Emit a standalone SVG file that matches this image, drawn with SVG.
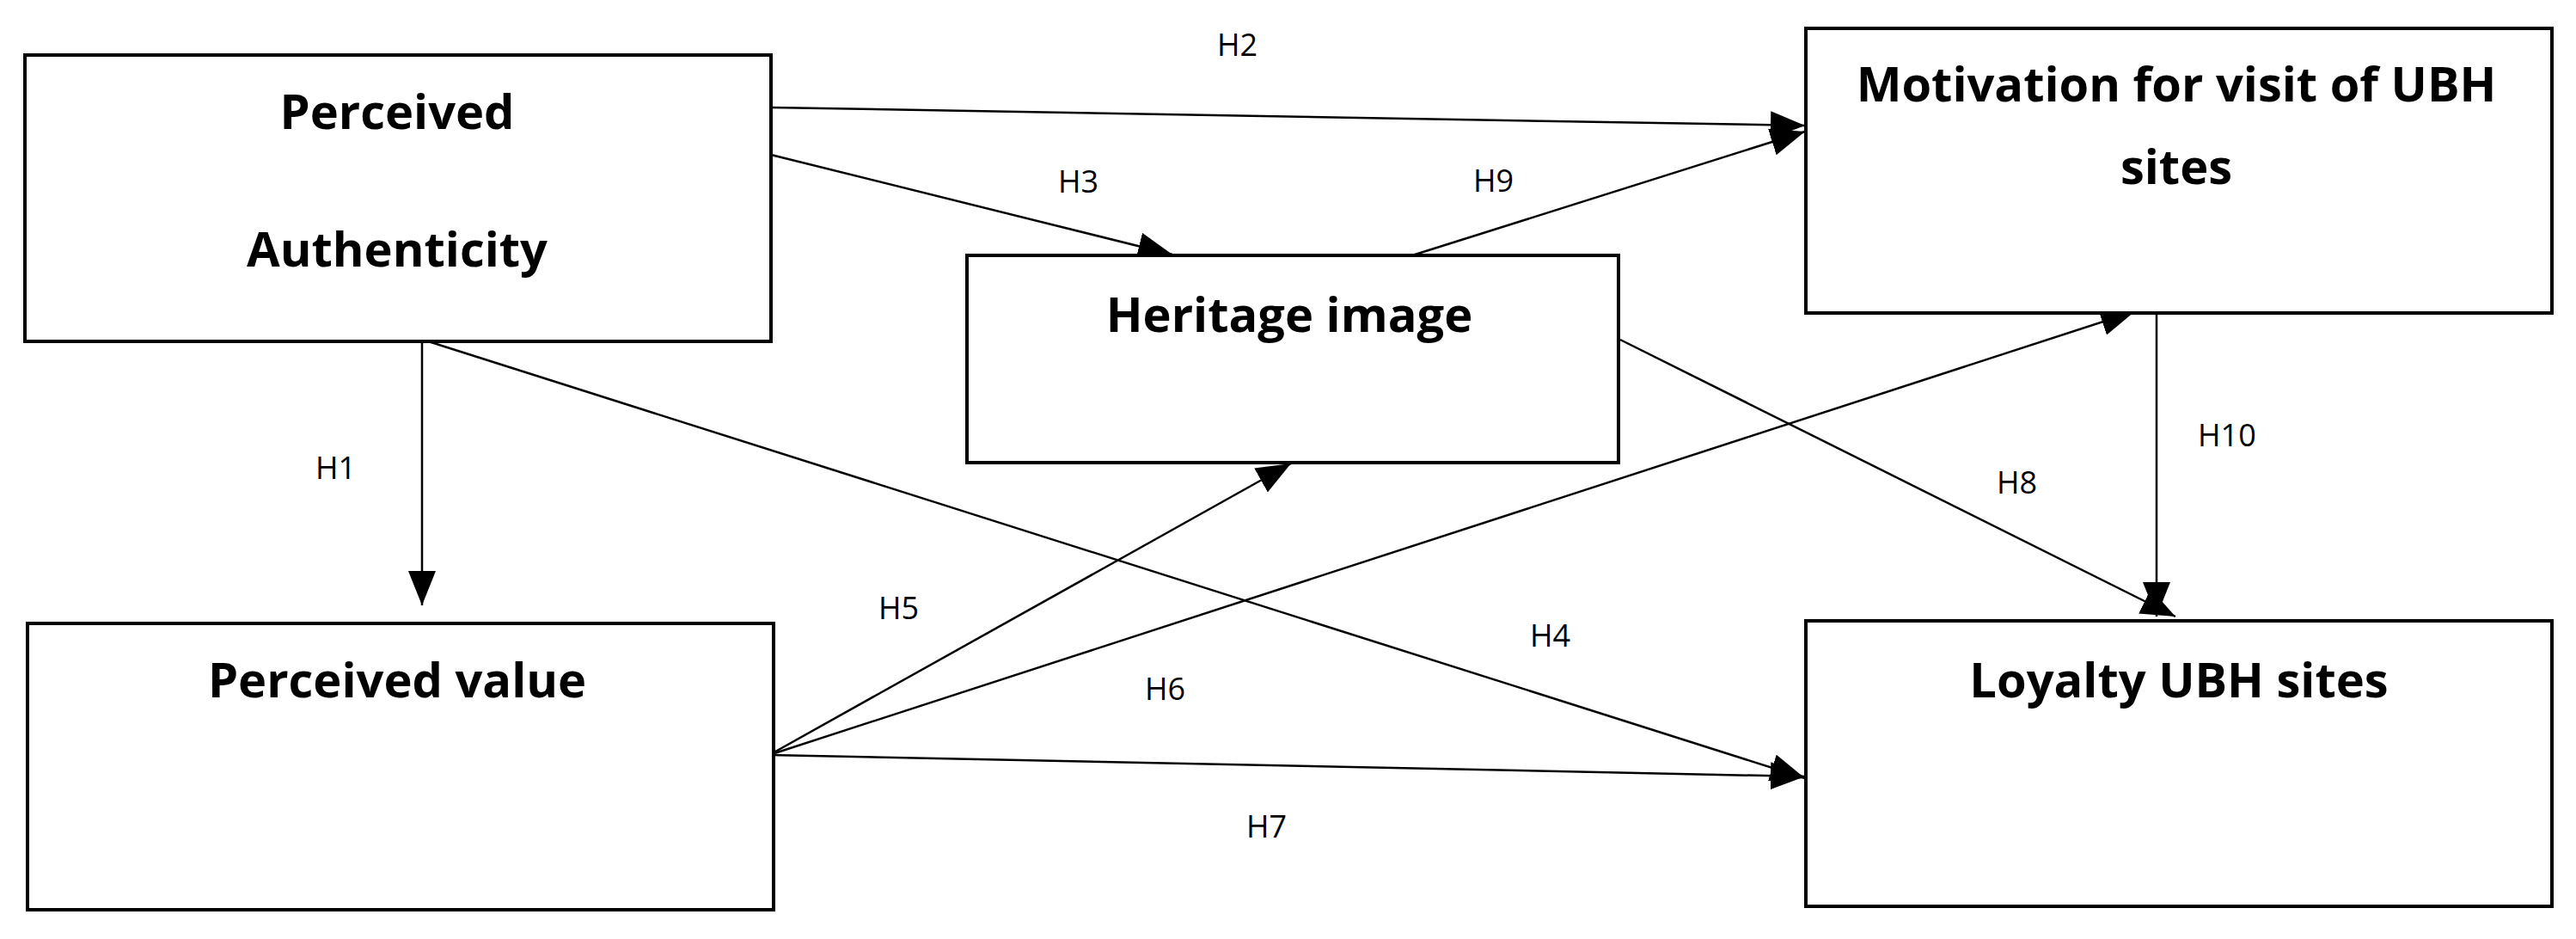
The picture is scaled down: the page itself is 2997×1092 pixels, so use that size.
<svg xmlns="http://www.w3.org/2000/svg" width="2997" height="1092" viewBox="0 0 2997 1092">
<style>
.box{fill:#fff;stroke:#000;stroke-width:4}
.t{font-family:"Open Sans","Liberation Sans",sans-serif;font-weight:bold;font-size:56px;text-anchor:middle;fill:#000}
.l{font-family:"Open Sans","Liberation Sans",sans-serif;font-size:36px;fill:#000}
.c{stroke:#000;stroke-width:2.5;fill:none;marker-end:url(#a)}
</style>
<defs><marker id="a" markerUnits="userSpaceOnUse" markerWidth="40" markerHeight="32" viewBox="0 0 40 32" refX="40" refY="16" orient="auto"><path d="M0,0L40,16L0,32z" fill="#000"/></marker></defs>
<rect width="2997" height="1092" fill="#fff"/>
<g id="connectors">
<line class="c" x1="897" y1="125" x2="2100" y2="146"/>
<line class="c" x1="897" y1="180" x2="1364" y2="296"/>
<line class="c" x1="1643" y1="297" x2="2100" y2="153"/>
<line class="c" x1="491" y1="397" x2="491" y2="704"/>
<line class="c" x1="498" y1="397" x2="2100" y2="905"/>
<line class="c" x1="895" y1="878" x2="1502" y2="539"/>
<line class="c" x1="895" y1="878" x2="2484" y2="362"/>
<line class="c" x1="895" y1="878" x2="2100" y2="903"/>
<line class="c" x1="1885" y1="395" x2="2531" y2="717"/>
<line class="c" x1="2509" y1="364" x2="2509" y2="717"/>
</g>
<g id="labels">
<text class="l" x="1416" y="65">H2</text>
<text class="l" x="1231" y="224">H3</text>
<text class="l" x="1714" y="223">H9</text>
<text class="l" x="367" y="557">H1</text>
<text class="l" x="1022" y="720">H5</text>
<text class="l" x="1332" y="814">H6</text>
<text class="l" x="1450" y="974">H7</text>
<text class="l" x="2557" y="519">H10</text>
<text class="l" x="2323" y="574">H8</text>
<text class="l" x="1780" y="752">H4</text>
</g>
<g id="perceived-authenticity"><rect class="box" x="29" y="64" width="868" height="333"/><text class="t" x="462" y="150">Perceived</text><text class="t" x="462" y="310">Authenticity</text></g>
<g id="heritage-image"><rect class="box" x="1125" y="297" width="758" height="241"/><text class="t" x="1500" y="386">Heritage image</text></g>
<g id="perceived-value"><rect class="box" x="32" y="725" width="868" height="333"/><text class="t" x="462" y="811">Perceived value</text></g>
<g id="motivation"><rect class="box" x="2101" y="33" width="868" height="331"/><text class="t" x="2532" y="118">Motivation for visit of UBH</text><text class="t" x="2532" y="214">sites</text></g>
<g id="loyalty"><rect class="box" x="2101" y="722" width="868" height="332"/><text class="t" x="2535" y="811">Loyalty UBH sites</text></g>
</svg>
